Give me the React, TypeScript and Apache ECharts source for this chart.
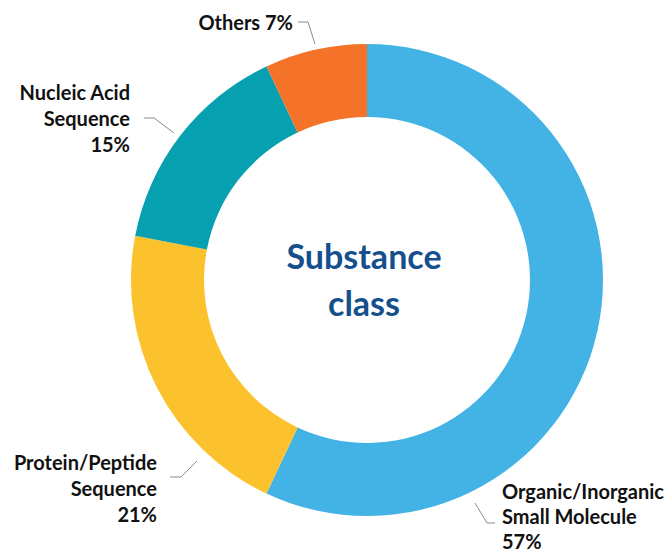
import React, { useEffect, useRef } from "react";
import * as echarts from "echarts";

const categories = [
  "Organic/Inorganic\nSmall Molecule",
  "Protein/Peptide\nSequence",
  "Nucleic Acid\nSequence",
  "Others",
];
const shares = [57, 21, 15, 7];
const colors = ["#42b3e4", "#fbc22d", "#06a0b1", "#f47328"];
const centerTitle = "Substance\nclass";

// label anchor positions (layout only)
const labelLayouts = [
  { x: 502, y: 516, align: "left", line: [[475, 503], [487, 523], [495, 523]] },
  { x: 157, y: 488, align: "right", line: [[197, 461], [181, 477], [170, 477]] },
  { x: 130, y: 118, align: "right", line: [[174, 133], [154, 118], [144, 118]] },
  { x: 293, y: 22, align: "right", line: [[315, 44], [308, 22], [298, 22]] },
];

export default function App() {
  const ref = useRef<HTMLDivElement>(null);
  useEffect(() => {
    if (!ref.current) return;
    const chart = echarts.init(ref.current, null, { renderer: "svg" });
    chart.setOption({
      animation: false,
      backgroundColor: "#ffffff",
      graphic: [
        {
          type: "text",
          x: 364,
          y: 279,
          style: {
            text: centerTitle,
            font: "bold 34px Lato, 'Open Sans', sans-serif",
            fill: "#15508c",
            align: "center",
            verticalAlign: "middle",
            lineHeight: 47,
          },
        },
      ],
      series: [
        {
          type: "pie",
          center: [367, 280],
          radius: [163, 236],
          startAngle: 90,
          clockwise: true,
          avoidLabelOverlap: false,
          itemStyle: { borderWidth: 0 },
          label: {
            show: true,
            position: "outside",
            fontFamily: "Lato, 'Open Sans', sans-serif",
            fontWeight: "bold",
            fontSize: 20,
            lineHeight: 26,
            color: "#111111",
            formatter: (p: any) =>
              p.dataIndex === 3 ? `${p.name} ${p.value}%` : `${p.name}\n${p.value}%`,
          },
          labelLine: {
            show: true,
            lineStyle: { color: "#8a8a8a", width: 1 },
          },
          labelLayout: (params: any) => {
            const L = labelLayouts[params.dataIndex];
            return {
              x: L.x,
              y: L.y,
              align: L.align,
              verticalAlign: "middle",
              labelLinePoints: L.line,
            };
          },
          data: categories.map((c, i) => ({
            name: c,
            value: shares[i],
            itemStyle: { color: colors[i] },
            label: i === 0 ? { lineHeight: 25 } : undefined,
          })),
        },
      ],
    });
    return () => chart.dispose();
  }, []);
  return (
    <div
      ref={ref}
      style={{ position: "fixed", left: 0, top: 0, width: 670, height: 555 }}
    />
  );
}
